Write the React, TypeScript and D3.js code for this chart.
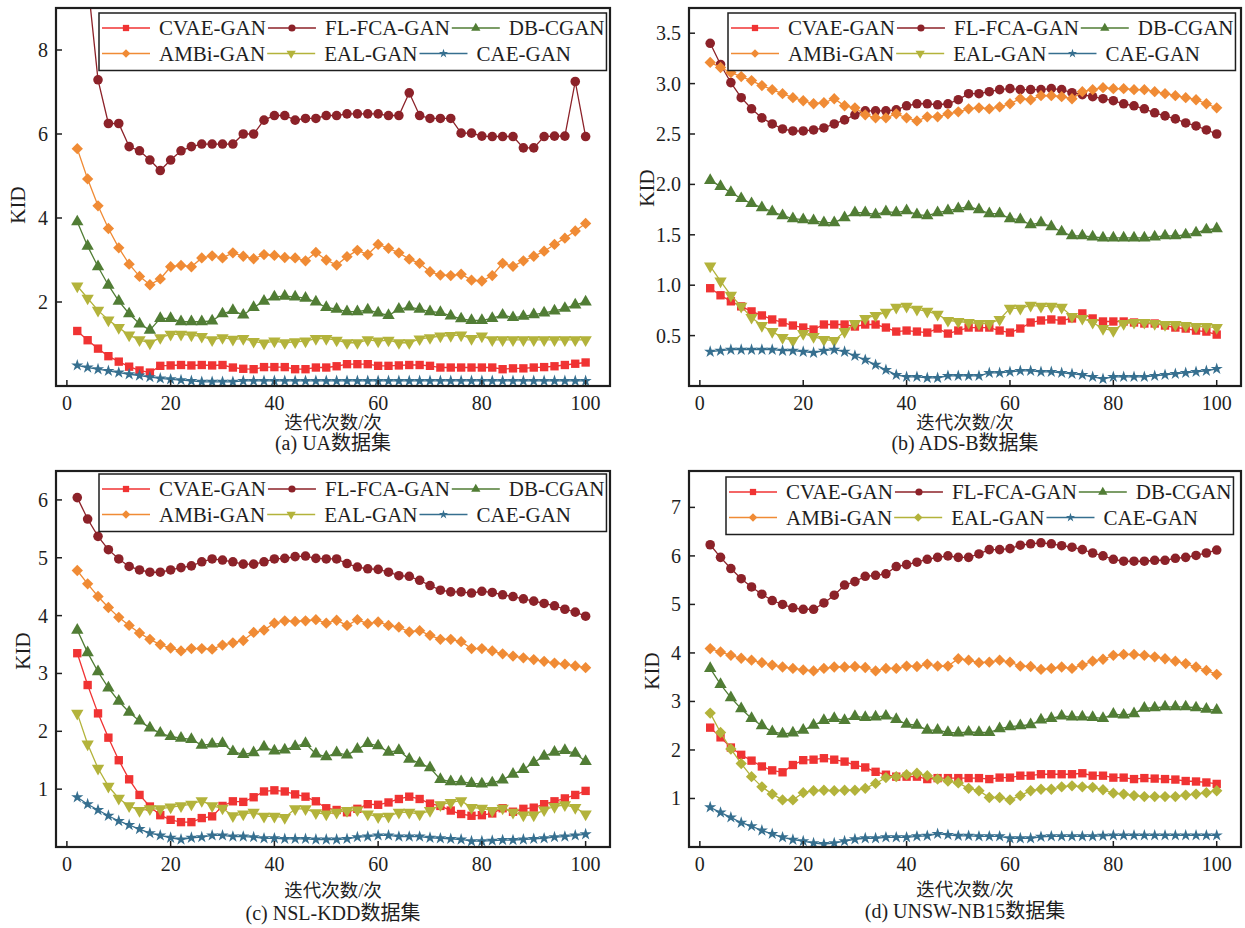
import { useEffect, useRef } from "react";
import * as d3 from "d3";

// iteration counts on the x axis
const epochs = [
  2, 4, 6, 8, 10, 12, 14, 16, 18, 20, 22, 24, 26, 28, 30, 32, 34, 36, 38, 40, 42, 44, 46, 48, 50,
  52, 54, 56, 58, 60, 62, 64, 66, 68, 70, 72, 74, 76, 78, 80, 82, 84, 86, 88, 90, 92, 94, 96, 98, 100,
];
const xTicks = [0, 20, 40, 60, 80, 100];

const seriesNames = ["CVAE-GAN", "FL-FCA-GAN", "DB-CGAN", "AMBi-GAN", "EAL-GAN", "CAE-GAN"];
const seriesColors = ["#f03333", "#8c2229", "#517d35", "#f08b35", "#b3b33b", "#366f8f"];

// (a) UA
const uaCvae = [
  1.31, 1.09, 0.89, 0.71, 0.58, 0.46, 0.37, 0.32, 0.48, 0.49, 0.5, 0.49, 0.5, 0.49, 0.5, 0.44, 0.41, 0.4, 0.45, 0.45, 0.45, 0.4, 0.4, 0.44,
  0.44, 0.47, 0.52, 0.52, 0.52, 0.48, 0.48, 0.49, 0.5, 0.5, 0.48, 0.44, 0.44, 0.44, 0.44, 0.44, 0.44, 0.4, 0.42, 0.42, 0.44, 0.45, 0.47, 0.5, 0.53, 0.56,
];
const uaFl = [
  11.0, 9.65, 7.29, 6.25, 6.25, 5.7, 5.6, 5.38, 5.13, 5.38, 5.6, 5.7, 5.76, 5.76, 5.76, 5.76, 6.0, 6.0, 6.33, 6.44, 6.44, 6.33, 6.37, 6.37,
  6.44, 6.44, 6.48, 6.48, 6.48, 6.48, 6.44, 6.44, 6.98, 6.44, 6.37, 6.37, 6.37, 6.02, 6.02, 5.95, 5.94, 5.94, 5.94, 5.67, 5.67, 5.94, 5.95, 5.95, 7.25, 5.94,
];
const uaDb = [
  3.91, 3.33, 2.84, 2.4, 2.02, 1.72, 1.48, 1.33, 1.61, 1.61, 1.53, 1.53, 1.53, 1.55, 1.72, 1.8, 1.69, 1.87, 2.02, 2.12, 2.14, 2.12, 2.09, 2.0,
  1.87, 1.83, 1.77, 1.77, 1.81, 1.74, 1.68, 1.83, 1.88, 1.83, 1.77, 1.75, 1.67, 1.6, 1.56, 1.56, 1.61, 1.69, 1.63, 1.66, 1.7, 1.74, 1.79, 1.85, 1.93, 2.0,
];
const uaAmbi = [
  5.65, 4.93, 4.29, 3.75, 3.29, 2.9, 2.61, 2.41, 2.55, 2.84, 2.87, 2.84, 3.05, 3.1, 3.05, 3.17, 3.09, 3.03, 3.13, 3.11, 3.06, 3.05, 2.98,
  3.18, 3.0, 2.88, 3.08, 3.23, 3.13, 3.37, 3.28, 3.17, 3.02, 2.92, 2.72, 2.64, 2.63, 2.66, 2.52, 2.5, 2.63, 2.92, 2.85, 2.98, 3.09, 3.21, 3.37, 3.52, 3.69, 3.87,
];
const uaEal = [
  2.38, 2.09, 1.8, 1.57, 1.39, 1.21, 1.1, 1.02, 1.15, 1.23, 1.23, 1.21, 1.18, 1.1, 1.15, 1.11, 1.13, 1.06, 1.02, 1.07, 1.03, 1.05, 1.07, 1.13,
  1.13, 1.09, 1.03, 1.03, 1.1, 1.07, 1.09, 1.03, 1.03, 1.12, 1.15, 1.19, 1.2, 1.21, 1.13, 1.19, 1.1, 1.1, 1.1, 1.1, 1.1, 1.1, 1.1, 1.1, 1.1, 1.1,
];
const uaCae = [
  0.49, 0.44, 0.4, 0.36, 0.32, 0.28, 0.25, 0.21, 0.18, 0.16, 0.14, 0.12, 0.1, 0.1, 0.1, 0.1, 0.12, 0.12, 0.12, 0.12, 0.12, 0.12, 0.12, 0.12,
  0.12, 0.12, 0.12, 0.12, 0.12, 0.12, 0.12, 0.12, 0.12, 0.12, 0.12, 0.12, 0.12, 0.12, 0.12, 0.12, 0.12, 0.12, 0.12, 0.12, 0.12, 0.12, 0.12, 0.12, 0.12, 0.12,
];

// (b) ADS-B
const adsCvae = [
  0.97, 0.9, 0.84, 0.79, 0.74, 0.7, 0.66, 0.63, 0.6, 0.58, 0.56, 0.61, 0.61, 0.61, 0.59, 0.61, 0.61, 0.58, 0.54, 0.55, 0.54, 0.53, 0.57,
  0.52, 0.55, 0.58, 0.58, 0.58, 0.55, 0.53, 0.57, 0.63, 0.65, 0.66, 0.65, 0.67, 0.72, 0.67, 0.64, 0.64, 0.64, 0.63, 0.62, 0.62, 0.6, 0.58, 0.57, 0.55, 0.54, 0.51,
];
const adsFl = [
  3.4, 3.19, 3.01, 2.86, 2.75, 2.66, 2.6, 2.55, 2.53, 2.53, 2.54, 2.56, 2.6, 2.64, 2.69, 2.73, 2.73, 2.73, 2.74, 2.78, 2.8, 2.8, 2.79,
  2.8, 2.84, 2.9, 2.9, 2.92, 2.94, 2.95, 2.94, 2.94, 2.94, 2.95, 2.94, 2.91, 2.89, 2.87, 2.85, 2.83, 2.8, 2.78, 2.75, 2.71, 2.68, 2.65, 2.61, 2.58, 2.54, 2.5,
];
const adsDb = [
  2.04, 1.98, 1.92, 1.86, 1.81, 1.77, 1.73, 1.69, 1.66, 1.65, 1.64, 1.62, 1.62, 1.67, 1.72, 1.72, 1.7, 1.73, 1.72, 1.74, 1.7, 1.69, 1.72,
  1.74, 1.76, 1.78, 1.75, 1.71, 1.71, 1.66, 1.65, 1.6, 1.62, 1.58, 1.53, 1.49, 1.49, 1.48, 1.47, 1.47, 1.47, 1.47, 1.47, 1.48, 1.49, 1.49, 1.5, 1.52, 1.55, 1.56,
];
const adsAmbi = [
  3.21, 3.16, 3.11, 3.07, 3.03, 2.98, 2.94, 2.9, 2.86, 2.83, 2.8, 2.81, 2.85, 2.78, 2.76, 2.69, 2.66, 2.66, 2.7, 2.66, 2.63, 2.67, 2.67,
  2.7, 2.72, 2.75, 2.76, 2.75, 2.77, 2.8, 2.85, 2.84, 2.88, 2.88, 2.87, 2.85, 2.92, 2.94, 2.96, 2.95, 2.95, 2.94, 2.94, 2.92, 2.9, 2.88, 2.86, 2.84, 2.8, 2.76,
];
const adsEal = [
  1.19, 1.04, 0.9, 0.79, 0.68, 0.6, 0.54, 0.48, 0.45, 0.52, 0.49, 0.46, 0.45, 0.54, 0.62, 0.67, 0.7, 0.73, 0.78, 0.79, 0.76, 0.74, 0.71,
  0.65, 0.64, 0.63, 0.62, 0.62, 0.66, 0.77, 0.77, 0.8, 0.79, 0.79, 0.78, 0.69, 0.67, 0.63, 0.57, 0.55, 0.62, 0.63, 0.63, 0.62, 0.61, 0.61, 0.6, 0.59, 0.59, 0.58,
];
const adsCae = [
  0.34, 0.35, 0.36, 0.36, 0.36, 0.36, 0.36, 0.35, 0.35, 0.34, 0.33, 0.35, 0.36, 0.34, 0.3, 0.26, 0.21, 0.16, 0.11, 0.09, 0.09, 0.08, 0.08,
  0.1, 0.1, 0.1, 0.1, 0.13, 0.13, 0.14, 0.15, 0.15, 0.14, 0.14, 0.13, 0.12, 0.11, 0.09, 0.07, 0.09, 0.09, 0.09, 0.09, 0.1, 0.11, 0.12, 0.13, 0.14, 0.15, 0.17,
];

// (c) NSL-KDD
const nslCvae = [
  3.35, 2.8, 2.31, 1.89, 1.5, 1.17, 0.9, 0.7, 0.55, 0.47, 0.43, 0.43, 0.5, 0.53, 0.71, 0.79, 0.78, 0.86, 0.96, 0.98, 0.96, 0.91, 0.87, 0.79,
  0.67, 0.64, 0.6, 0.66, 0.74, 0.73, 0.77, 0.83, 0.87, 0.83, 0.75, 0.71, 0.63, 0.57, 0.54, 0.55, 0.58, 0.67, 0.61, 0.66, 0.68, 0.74, 0.79, 0.84, 0.9, 0.97,
];
const nslFl = [
  6.04, 5.67, 5.37, 5.14, 4.98, 4.85, 4.79, 4.75, 4.75, 4.79, 4.83, 4.86, 4.93, 4.98, 4.96, 4.93, 4.89, 4.89, 4.93, 4.98, 4.99, 5.02, 5.03, 4.99,
  4.98, 4.98, 4.9, 4.84, 4.81, 4.8, 4.75, 4.69, 4.68, 4.61, 4.52, 4.44, 4.41, 4.41, 4.39, 4.42, 4.4, 4.36, 4.33, 4.29, 4.25, 4.21, 4.17, 4.11, 4.06, 3.99,
];
const nslDb = [
  3.75, 3.36, 3.03, 2.75, 2.52, 2.33, 2.18, 2.06, 1.97, 1.91, 1.88, 1.86, 1.76, 1.78, 1.79, 1.65, 1.6, 1.63, 1.73, 1.66, 1.68, 1.74, 1.79, 1.61,
  1.56, 1.63, 1.59, 1.69, 1.79, 1.75, 1.64, 1.67, 1.52, 1.45, 1.37, 1.17, 1.13, 1.13, 1.1, 1.09, 1.11, 1.16, 1.26, 1.34, 1.46, 1.57, 1.64, 1.67, 1.62, 1.48,
];
const nslAmbi = [
  4.78, 4.55, 4.33, 4.14, 3.97, 3.83, 3.7, 3.59, 3.5, 3.44, 3.39, 3.43, 3.43, 3.42, 3.49, 3.53, 3.57, 3.71, 3.75, 3.87, 3.91, 3.9, 3.91, 3.93,
  3.87, 3.92, 3.83, 3.93, 3.86, 3.89, 3.83, 3.8, 3.72, 3.74, 3.66, 3.59, 3.59, 3.55, 3.43, 3.43, 3.39, 3.34, 3.3, 3.27, 3.24, 3.21, 3.18, 3.16, 3.13, 3.1,
];
const nslEal = [
  2.31, 1.78, 1.36, 1.05, 0.84, 0.71, 0.63, 0.66, 0.66, 0.69, 0.71, 0.74, 0.8, 0.71, 0.67, 0.54, 0.57, 0.6, 0.53, 0.53, 0.51, 0.66, 0.66, 0.59,
  0.57, 0.6, 0.63, 0.64, 0.57, 0.52, 0.53, 0.6, 0.6, 0.57, 0.63, 0.73, 0.77, 0.8, 0.68, 0.67, 0.63, 0.67, 0.6, 0.55, 0.55, 0.64, 0.7, 0.73, 0.68, 0.57,
];
const nslCae = [
  0.86, 0.74, 0.64, 0.54, 0.45, 0.38, 0.31, 0.24, 0.2, 0.16, 0.13, 0.16, 0.17, 0.2, 0.2, 0.18, 0.18, 0.17, 0.15, 0.15, 0.14, 0.14, 0.14, 0.13,
  0.13, 0.13, 0.14, 0.17, 0.18, 0.2, 0.2, 0.18, 0.18, 0.18, 0.16, 0.15, 0.14, 0.13, 0.1, 0.1, 0.11, 0.12, 0.12, 0.13, 0.14, 0.15, 0.17, 0.18, 0.2, 0.22,
];

// (d) UNSW-NB15
const unswCvae = [
  2.46, 2.26, 2.05, 1.9, 1.78, 1.66, 1.58, 1.54, 1.69, 1.79, 1.8, 1.83, 1.8, 1.76, 1.69, 1.64, 1.55, 1.49, 1.45, 1.45, 1.45, 1.4, 1.42,
  1.42, 1.42, 1.42, 1.42, 1.4, 1.43, 1.43, 1.47, 1.47, 1.5, 1.5, 1.5, 1.5, 1.52, 1.47, 1.47, 1.43, 1.43, 1.4, 1.42, 1.41, 1.4, 1.39, 1.36, 1.35, 1.33, 1.3,
];
const unswFl = [
  6.23, 5.97, 5.74, 5.53, 5.36, 5.21, 5.08, 5.0, 4.93, 4.9, 4.9, 5.03, 5.19, 5.4, 5.47, 5.58, 5.6, 5.63, 5.78, 5.82, 5.87, 5.93, 5.97,
  6.0, 5.97, 5.97, 6.04, 6.13, 6.13, 6.15, 6.22, 6.25, 6.27, 6.25, 6.21, 6.18, 6.13, 6.06, 6.0, 5.93, 5.89, 5.89, 5.89, 5.91, 5.91, 5.95, 5.97, 6.01, 6.06, 6.12,
];
const unswDb = [
  3.68, 3.35, 3.08, 2.85, 2.65, 2.5, 2.38, 2.33, 2.35, 2.41, 2.51, 2.61, 2.65, 2.61, 2.69, 2.67, 2.68, 2.7, 2.63, 2.53, 2.51, 2.41, 2.41,
  2.36, 2.35, 2.37, 2.36, 2.36, 2.44, 2.48, 2.5, 2.52, 2.62, 2.65, 2.7, 2.68, 2.68, 2.67, 2.65, 2.74, 2.72, 2.75, 2.86, 2.87, 2.89, 2.89, 2.89, 2.87, 2.84, 2.82,
];
const unswAmbi = [
  4.09, 4.02, 3.95, 3.89, 3.85, 3.8, 3.75, 3.71, 3.68, 3.65, 3.63, 3.68, 3.71, 3.71, 3.72, 3.7, 3.63, 3.68, 3.68, 3.73, 3.72, 3.77, 3.73,
  3.73, 3.88, 3.85, 3.8, 3.81, 3.85, 3.81, 3.73, 3.72, 3.66, 3.68, 3.71, 3.68, 3.75, 3.83, 3.87, 3.95, 3.97, 3.97, 3.95, 3.92, 3.88, 3.83, 3.78, 3.71, 3.64, 3.56,
];
const unswEal = [
  2.76, 2.36, 2.02, 1.72, 1.45, 1.24, 1.09, 0.97, 0.97, 1.12, 1.16, 1.17, 1.16, 1.17, 1.17, 1.21, 1.31, 1.43, 1.45, 1.49, 1.52, 1.47, 1.4,
  1.36, 1.32, 1.21, 1.16, 1.02, 1.02, 0.97, 1.06, 1.16, 1.19, 1.19, 1.24, 1.26, 1.24, 1.23, 1.18, 1.11, 1.09, 1.06, 1.04, 1.04, 1.04, 1.04, 1.07, 1.09, 1.12, 1.16,
];
const unswCae = [
  0.82, 0.71, 0.61, 0.5, 0.43, 0.34, 0.27, 0.2, 0.15, 0.12, 0.08, 0.06, 0.08, 0.12, 0.16, 0.18, 0.18, 0.2, 0.2, 0.2, 0.22, 0.23, 0.27,
  0.25, 0.23, 0.23, 0.22, 0.22, 0.22, 0.18, 0.18, 0.18, 0.21, 0.22, 0.22, 0.22, 0.22, 0.22, 0.23, 0.24, 0.24, 0.24, 0.24, 0.24, 0.24, 0.24, 0.24, 0.24, 0.24, 0.24,
];

type Shape = "square" | "circle" | "triangle" | "diamond" | "down" | "star";

const panels = [
  {
    caption: "(a) UA数据集",
    series: [uaCvae, uaFl, uaDb, uaAmbi, uaEal, uaCae],
    shapes: ["square", "circle", "triangle", "diamond", "down", "star"] as Shape[],
    yMax: 9, yTicks: [2, 4, 6, 8], yFmt: "d",
    box: { x0: 56, x1: 610, y0: 8, y1: 386 },
    legend: { x: 102, y: 28 }, ylab: { x: 17.5, y: 205 }, xlabY: 429, capY: 450,
  },
  {
    caption: "(b) ADS-B数据集",
    series: [adsCvae, adsFl, adsDb, adsAmbi, adsEal, adsCae],
    shapes: ["square", "circle", "triangle", "diamond", "down", "star"] as Shape[],
    yMax: 3.75, yTicks: [0.5, 1, 1.5, 2, 2.5, 3, 3.5], yFmt: ".1f",
    box: { x0: 689, x1: 1241, y0: 8, y1: 386 },
    legend: { x: 731, y: 28 }, ylab: { x: 647, y: 188 }, xlabY: 429, capY: 450,
  },
  {
    caption: "(c) NSL-KDD数据集",
    series: [nslCvae, nslFl, nslDb, nslAmbi, nslEal, nslCae],
    shapes: ["square", "circle", "triangle", "diamond", "down", "star"] as Shape[],
    yMax: 6.5, yTicks: [1, 2, 3, 4, 5, 6], yFmt: "d",
    box: { x0: 56, x1: 610, y0: 471, y1: 847 },
    legend: { x: 102, y: 489 }, ylab: { x: 23, y: 651 }, xlabY: 897, capY: 920,
  },
  {
    caption: "(d) UNSW-NB15数据集",
    series: [unswCvae, unswFl, unswDb, unswAmbi, unswEal, unswCae],
    shapes: ["square", "circle", "triangle", "diamond", "diamond", "star"] as Shape[],
    yMax: 7.75, yTicks: [1, 2, 3, 4, 5, 6, 7], yFmt: "d",
    box: { x0: 689, x1: 1241, y0: 471, y1: 847 },
    legend: { x: 729, y: 492 }, ylab: { x: 652, y: 671 }, xlabY: 896, capY: 918,
  },
];

const FONT = '"Liberation Serif", "Times New Roman", "Noto Sans CJK SC", serif';
const INK = "#1e1e1e";

function markerPath(shape: Shape, k = 1) {
  const sym = {
    square: d3.symbolSquare, circle: d3.symbolCircle, triangle: d3.symbolTriangle,
    diamond: d3.symbolSquare, down: d3.symbolTriangle, star: d3.symbolStar,
  }[shape];
  const size = { square: 70, circle: 72, triangle: 66, diamond: 64, down: 66, star: 46 }[shape];
  return d3.symbol(sym, size * k * k)() as string;
}
function markerRotate(shape: Shape) {
  return shape === "diamond" ? 45 : shape === "down" ? 180 : 0;
}

export default function App() {
  const ref = useRef<SVGSVGElement>(null);

  useEffect(() => {
    if (!ref.current) return;
    const svg = d3.select(ref.current);
    svg.selectAll("*").remove();

    panels.forEach((p, pi) => {
      const { x0, x1, y0, y1 } = p.box;
      const x = d3.scaleLinear().domain([-2.1, 104.7]).range([x0, x1]);
      const y = d3.scaleLinear().domain([0, p.yMax]).range([y1, y0]);
      const g = svg.append("g");

      const clipId = `clip-${pi}`;
      svg.append("defs").append("clipPath").attr("id", clipId)
        .append("rect").attr("x", x0).attr("y", y0).attr("width", x1 - x0).attr("height", y1 - y0);

      // series: line + markers
      const plot = g.append("g").attr("clip-path", `url(#${clipId})`);
      p.series.forEach((vals, si) => {
        const pts = vals.map((v, i) => [epochs[i], v] as [number, number]);
        const line = d3.line<[number, number]>().x((d) => x(d[0])).y((d) => y(d[1]));
        plot.append("path").attr("d", line(pts)).attr("fill", "none")
          .attr("stroke", seriesColors[si]).attr("stroke-width", 1.3);
        const shape = p.shapes[si];
        plot.append("g").selectAll("path").data(pts).join("path")
          .attr("d", markerPath(shape))
          .attr("transform", (d) => `translate(${x(d[0])},${y(d[1])}) rotate(${markerRotate(shape)})`)
          .attr("fill", seriesColors[si]);
      });

      // frame
      g.append("rect").attr("x", x0).attr("y", y0).attr("width", x1 - x0).attr("height", y1 - y0)
        .attr("fill", "none").attr("stroke", INK).attr("stroke-width", 2.2);

      // ticks (inward)
      xTicks.forEach((t) => {
        g.append("line").attr("x1", x(t)).attr("x2", x(t)).attr("y1", y1).attr("y2", y1 - 6)
          .attr("stroke", INK).attr("stroke-width", 1.5);
        g.append("text").attr("x", x(t)).attr("y", y1 + 23.5).attr("text-anchor", "middle")
          .attr("font-family", FONT).attr("font-size", 20).attr("fill", INK).text(String(t));
      });
      const fmt = d3.format(p.yFmt);
      p.yTicks.forEach((t) => {
        g.append("line").attr("x1", x0).attr("x2", x0 + 6).attr("y1", y(t)).attr("y2", y(t))
          .attr("stroke", INK).attr("stroke-width", 1.5);
        g.append("text").attr("x", x0 - 8).attr("y", y(t)).attr("dy", "0.35em").attr("text-anchor", "end")
          .attr("font-family", FONT).attr("font-size", 20).attr("fill", INK).text(fmt(t));
      });

      // axis titles and caption
      g.append("text").attr("transform", `translate(${p.ylab.x},${p.ylab.y}) rotate(-90)`)
        .attr("dy", "0.35em").attr("text-anchor", "middle")
        .attr("font-family", FONT).attr("font-size", 21).attr("fill", INK).text("KID");
      g.append("text").attr("x", (x0 + x1) / 2).attr("y", p.xlabY).attr("text-anchor", "middle")
        .attr("font-family", FONT).attr("font-size", 18.5).attr("fill", INK).text("迭代次数/次");
      g.append("text").attr("x", (x0 + x1) / 2).attr("y", p.capY).attr("text-anchor", "middle")
        .attr("font-family", FONT).attr("font-size", 20).attr("fill", INK).text(p.caption);

      // legend: two rows, items flow left to right
      const lg = g.append("g");
      const rows = [[0, 1, 2], [3, 4, 5]];
      let maxEnd = 0;
      rows.forEach((row, ri) => {
        const cy = p.legend.y + ri * 25.5;
        let cx = p.legend.x;
        row.forEach((si) => {
          lg.append("line").attr("x1", cx).attr("x2", cx + 48).attr("y1", cy).attr("y2", cy)
            .attr("stroke", seriesColors[si]).attr("stroke-width", 1.3);
          const shape = p.shapes[si];
          lg.append("path").attr("d", markerPath(shape, 0.75))
            .attr("transform", `translate(${cx + 24},${cy}) rotate(${markerRotate(shape)})`)
            .attr("fill", seriesColors[si]);
          const txt = lg.append("text").attr("x", cx + 57).attr("y", cy).attr("dy", "0.35em")
            .attr("font-family", FONT).attr("font-size", 21).attr("fill", INK).text(seriesNames[si]);
          const w = (txt.node() as SVGTextElement).getComputedTextLength();
          cx = cx + 57 + w + 2;
        });
        maxEnd = Math.max(maxEnd, cx);
      });
      lg.insert("rect", ":first-child")
        .attr("x", p.legend.x - 3).attr("y", p.legend.y - 15)
        .attr("width", maxEnd - p.legend.x + 3).attr("height", 25.5 + 32)
        .attr("fill", "white").attr("stroke", INK).attr("stroke-width", 1.5);
    });
  }, []);

  return (
    <svg
      ref={ref}
      width={1245}
      height={928}
      style={{ position: "absolute", left: 0, top: 0, background: "white" }}
    />
  );
}
